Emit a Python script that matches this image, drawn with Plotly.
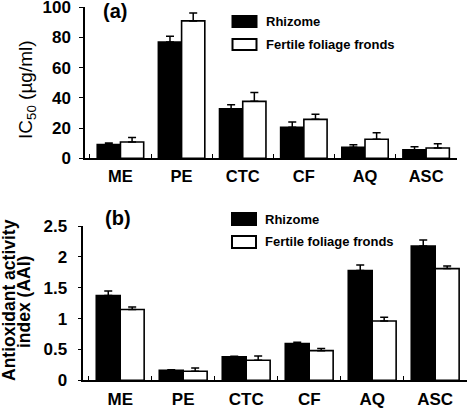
import plotly.graph_objects as go

W, H = 472, 409

categories = ["ME", "PE", "CTC", "CF", "AQ", "ASC"]
series_names = ["Rhizome", "Fertile foliage fronds"]

# Panel (a): IC50 (µg/ml)
ic50_rhizome = [9.1, 77.0, 32.7, 20.5, 7.3, 5.7]
ic50_rhizome_err = [1.0, 3.8, 2.8, 3.5, 1.6, 2.0]
ic50_fronds = [10.8, 91.0, 37.7, 25.8, 12.6, 6.8]
ic50_fronds_err = [2.9, 5.2, 5.8, 3.3, 4.4, 2.9]

# Panel (b): Antioxidant activity index (AAI)
aai_rhizome = [1.375, 0.16, 0.38, 0.595, 1.78, 2.175]
aai_rhizome_err = [0.07, 0.01, 0.01, 0.02, 0.09, 0.10]
aai_fronds = [1.148, 0.146, 0.325, 0.48, 0.96, 1.81]
aai_fronds_err = [0.04, 0.055, 0.07, 0.035, 0.06, 0.04]

ic50_ticks = [0, 20, 40, 60, 80, 100]
aai_ticks = [0, 0.5, 1, 1.5, 2, 2.5]
aai_ticktext = ["0", "0.5", "1", "1.5", "2", "2.5"]

FONT = "Arial, Liberation Sans, sans-serif"


def px(x):
    return x / W


def py(y):
    return 1 - y / H


fig = go.Figure()


def add_pair(vals1, err1, vals2, err2, xa, ya):
    for vals, err, fill in ((vals1, err1, "black"), (vals2, err2, "white")):
        fig.add_trace(go.Bar(
            x=categories, y=vals, xaxis=xa, yaxis=ya,
            marker=dict(color=fill, line=dict(color="black", width=1.6)),
            error_y=dict(type="data", array=err, arrayminus=[0] * len(err),
                         symmetric=False, color="black", thickness=1.5, width=4),
            showlegend=False,
        ))


add_pair(ic50_rhizome, ic50_rhizome_err, ic50_fronds, ic50_fronds_err, "x", "y")
add_pair(aai_rhizome, aai_rhizome_err, aai_fronds, aai_fronds_err, "x2", "y2")

xcommon = dict(
    type="category", showgrid=False, zeroline=False, showline=True,
    automargin=False, ticklabeloverflow="allow",
    linecolor="black", linewidth=1.5, ticks="inside", tickson="boundaries",
    ticklen=5, tickwidth=1.2, tickcolor="black",
)
ycommon = dict(
    showgrid=False, zeroline=False, showline=True, linecolor="black",
    automargin=False, ticklabeloverflow="allow",
    linewidth=1.5, ticks="outside", ticklen=4, tickwidth=1.2, tickcolor="black",
    tickfont=dict(family=FONT, size=17, color="black", weight="bold"),
)

fig.update_layout(
    width=W, height=H,
    margin=dict(l=0, r=0, t=0, b=0, autoexpand=False),
    paper_bgcolor="white", plot_bgcolor="white",
    barmode="group", bargap=0.24, bargroupgap=0,
    showlegend=False,
    xaxis=dict(xcommon, domain=[px(85), px(456.7)], range=[-0.58, 5.5],
               anchor="y", ticklabelstandoff=2,
               tickfont=dict(family=FONT, size=16.5, color="black", weight="bold")),
    yaxis=dict(ycommon, domain=[py(158.3), py(7.3)], range=[0, 100],
               tickvals=ic50_ticks, anchor="x", ticklabelstandoff=5),
    xaxis2=dict(xcommon, domain=[px(83.3), px(466.7)], range=[-0.586, 5.5],
                anchor="y2", ticklabelstandoff=3,
                tickfont=dict(family=FONT, size=17, color="black", weight="bold")),
    yaxis2=dict(ycommon, domain=[py(380.3), py(226)], range=[0, 2.5],
                tickvals=aai_ticks, ticktext=aai_ticktext, anchor="x2",
                ticklabelstandoff=7),
)

annotations = []
shapes = []


def ann(text, x, y, size, bold=False, angle=0, xanchor="center"):
    annotations.append(dict(
        text=text, x=px(x), y=py(y), xref="paper", yref="paper",
        showarrow=False, textangle=angle, xanchor=xanchor, yanchor="middle",
        font=dict(family=FONT, size=size, color="black",
                  weight="bold" if bold else "normal"),
    ))


# panel labels
ann("(a)", 115, 11, 20, bold=True)
ann("(b)", 118, 218, 20, bold=True)

# axis titles
ann("IC<sub>50</sub> (µg/ml)", 27, 90, 19, angle=-90)
ann("Antioxidant activity", 9, 300, 17.5, bold=True, angle=-90)
ann("index (AAI)", 24, 302, 17.5, bold=True, angle=-90)


# legends
def legend(x0, y_black, y_white):
    for (y0, y1), fill, name in ((y_black, "black", series_names[0]),
                                 (y_white, "white", series_names[1])):
        shapes.append(dict(type="rect", xref="paper", yref="paper",
                           x0=px(x0), x1=px(x0 + 24), y0=py(y1), y1=py(y0),
                           fillcolor=fill, line=dict(color="black", width=2)))
        ann(name, x0 + 31, (y0 + y1) / 2, 13, bold=True, xanchor="left")


legend(232.5, (16, 27), (39, 50))
legend(232, (213, 225), (236, 248))

fig.update_layout(annotations=annotations, shapes=shapes)

fig.write_html(
    "out.html",
    config={"displayModeBar": False},
    post_script="document.body.style.margin='0';document.body.style.overflow='hidden';",
)
